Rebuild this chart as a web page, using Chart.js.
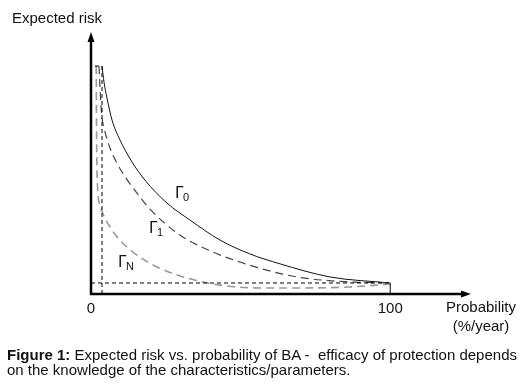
<!DOCTYPE html>
<html>
<head>
<meta charset="utf-8">
<script src="https://cdn.jsdelivr.net/npm/chart.js@4"></script>
<style>
  body { margin: 0; background: #fff; }
  #wrap { position: relative; width: 528px; height: 388px; }
  #caption {
    position: absolute; left: 7px; top: 347px; width: 521px; white-space: nowrap;
    font-family: "Liberation Sans", Arial, sans-serif; font-size: 15px;
    line-height: 15px; color: #111;
  }
</style>
</head>
<body>
<div id="wrap">
  <canvas id="myChart" width="528" height="388"></canvas>
  <div id="caption"><b>Figure 1:</b> Expected risk vs. probability of BA -&nbsp; efficacy of protection depends<br>on the knowledge of the characteristics/parameters.</div>
</div>
<script>
// curves (x = probability %/year, y = expected risk, relative units)
var gamma0X = [3.68, 4.34, 5.35, 7.02, 9.69, 13.7, 18.0, 25.4, 33.1, 43.1, 53.1, 63.2, 79.9, 100];
var gamma0Y = [87.0, 80.9, 74.8, 66.4, 58.8, 50.4, 43.5, 34.7, 28.2, 20.6, 15.3, 11.5, 6.5, 4.2];

var gamma1X = [2.67, 3.01, 3.34, 3.68, 4.34, 6.35, 9.02, 12.4, 16.4, 19.7, 29.7, 40.8, 49.8, 57.5, 68.9, 83.2, 100];
var gamma1Y = [87.0, 78.6, 71.8, 67.2, 63.4, 55.7, 49.2, 43.1, 37.0, 32.4, 22.5, 16.0, 12.2, 9.5, 6.5, 4.8, 4.2];

var gammaNX = [1.75, 1.8, 1.9, 2.2, 3.0, 4.0, 6.35, 8.7, 14.0, 22.1, 32.1, 43.1, 56.5, 69.9, 86.6, 100];
var gammaNY = [87.0, 74.0, 55.0, 40.5, 34.0, 30.6, 25.6, 21.8, 16.0, 10.3, 6.1, 3.4, 2.3, 2.3, 2.7, 3.8];

// minimum probability / residual risk guides
var pMin = 3.68;
var riskMax = 87.0;
var riskMin = 4.2;
var pMax = 100;

var xTickLabels = [0, 100];
var curveNames = ["0", "1", "N"];
var labelX = [28.1, 19.4, 9.0];
var labelY = [36.6, 23.3, 10.3];

function pts(xs, ys) {
    var out = [];
    for (var i = 0; i < xs.length; i++) {
        out.push({ x: xs[i], y: ys[i] });
    }
    return out;
}

// ejes con flechas, etiquetas y nombres de curvas
var ejes = {
    id: 'ejes',
    afterDraw: function (chart) {
        var ctx = chart.ctx;
        var xs = chart.scales.x, ys = chart.scales.y;
        var a = chart.chartArea;
        ctx.save();
        ctx.strokeStyle = '#000';
        ctx.fillStyle = '#000';
        ctx.lineWidth = 2.5;
        ctx.beginPath();
        ctx.moveTo(a.left, a.bottom);
        ctx.lineTo(a.left, a.top + 9);
        ctx.moveTo(a.left - 1.2, a.bottom);
        ctx.lineTo(a.right - 9, a.bottom);
        ctx.stroke();
        // arrow heads
        ctx.beginPath();
        ctx.moveTo(a.left, a.top);
        ctx.lineTo(a.left - 3.5, a.top + 10);
        ctx.lineTo(a.left + 3.5, a.top + 10);
        ctx.closePath();
        ctx.fill();
        ctx.beginPath();
        ctx.moveTo(a.right, a.bottom);
        ctx.lineTo(a.right - 10, a.bottom - 3.5);
        ctx.lineTo(a.right - 10, a.bottom + 3.5);
        ctx.closePath();
        ctx.fill();

        ctx.font = '15px "Liberation Sans", Arial, sans-serif';
        ctx.fillStyle = '#111';
        ctx.textAlign = 'center';
        ctx.textBaseline = 'middle';
        xTickLabels.forEach(function (v) {
            ctx.fillText(String(v), xs.getPixelForValue(v), a.bottom + 15);
        });
        ctx.fillText('Expected risk', 57, 19);
        ctx.fillText('Probability', 481, 308);
        ctx.fillText('(%/year)', 481, 327);

        // nombres de curvas
        ctx.textAlign = 'left';
        ctx.textBaseline = 'alphabetic';
        for (var i = 0; i < curveNames.length; i++) {
            var px = xs.getPixelForValue(labelX[i]);
            var py = ys.getPixelForValue(labelY[i]);
            ctx.font = '15px "DejaVu Sans", sans-serif';
            ctx.fillText('\u0393', px, py);
            ctx.font = '11px "Liberation Sans", Arial, sans-serif';
            ctx.fillText(curveNames[i], px + 8, py + 3);
        }
        ctx.restore();
    }
};

var guide = { borderColor: '#000', borderWidth: 1, borderDash: [4, 3], pointRadius: 0, showLine: true, fill: false };

var chartdata = {
    datasets: [
        Object.assign({ data: [{ x: pMin, y: 0 }, { x: pMin, y: riskMax }] }, guide),
        Object.assign({ data: [{ x: 0, y: riskMin }, { x: pMax, y: riskMin }] }, guide),
        Object.assign({ data: [{ x: 1.3, y: riskMax }, { x: pMin, y: riskMax }] }, guide),
        { data: [{ x: pMax, y: 0 }, { x: pMax, y: riskMin }], borderColor: '#000', borderWidth: 1, pointRadius: 0, showLine: true },
        { label: 'GN', data: pts(gammaNX, gammaNY), borderColor: '#9a9a9a', borderWidth: 1.6, borderDash: [8, 5], pointRadius: 0, showLine: true, cubicInterpolationMode: 'monotone' },
        { label: 'G1', data: pts(gamma1X, gamma1Y), borderColor: '#444', borderWidth: 1.2, borderDash: [8, 5], pointRadius: 0, showLine: true, cubicInterpolationMode: 'monotone' },
        { label: 'G0', data: pts(gamma0X, gamma0Y), borderColor: '#111', borderWidth: 1, pointRadius: 0, showLine: true, cubicInterpolationMode: 'monotone' }
    ]
};

var graph = new Chart(document.getElementById('myChart'), {
    type: 'scatter',
    data: chartdata,
    plugins: [ejes],
    options: {
        responsive: false,
        animation: false,
        devicePixelRatio: 1,
        layout: { padding: { left: 91, right: 57, top: 32, bottom: 94 } },
        plugins: { legend: { display: false }, tooltip: { enabled: false } },
        scales: {
            x: { type: 'linear', min: 0, max: 127, display: false },
            y: { type: 'linear', min: 0, max: 100, display: false }
        }
    }
});
</script>
</body>
</html>
